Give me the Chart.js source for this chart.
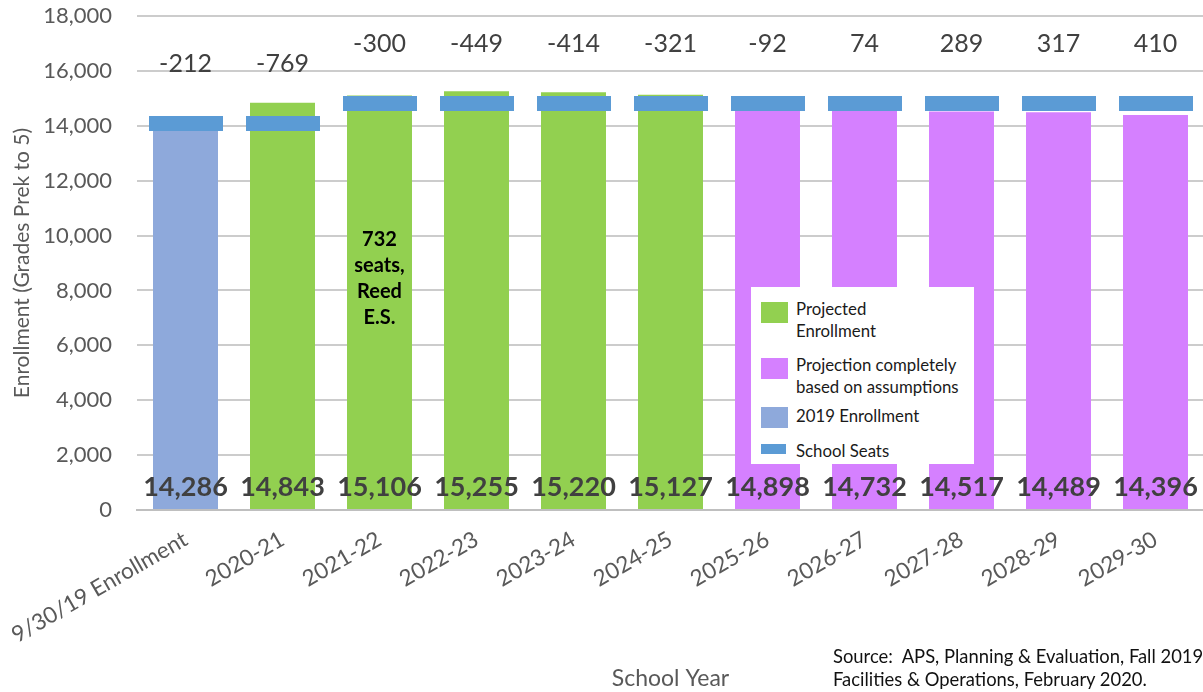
<!DOCTYPE html>
<html><head><meta charset="utf-8">
<script src="https://cdn.jsdelivr.net/npm/chart.js@4.4.1/dist/chart.umd.min.js"></script>
<style>
html,body{margin:0;padding:0;width:1203px;height:692px;overflow:hidden;background:#fff;font-family:Lato,sans-serif;}
#wrap{position:absolute;left:0;top:0;width:1215px;height:692px;}
#legend{position:absolute;left:751px;top:287px;width:223px;height:177px;background:#fff;color:#1a1a1a;font-size:16.8px;line-height:22px;}
.sw{position:absolute;left:10px;width:27px;height:21px;}
.lt{position:absolute;left:45px;white-space:nowrap;}
#source{position:absolute;left:833px;top:645px;font-size:18.4px;line-height:23px;color:#111;white-space:nowrap;}
</style></head>
<body>
<div id="wrap"><canvas id="c" width="1215" height="692"></canvas></div>
<div id="legend">
  <div class="sw" style="top:15px;background:#92D050"></div><div class="lt" style="top:11px">Projected<br>Enrollment</div>
  <div class="sw" style="top:71px;background:#D580FF"></div><div class="lt" style="top:67px">Projection completely<br>based on assumptions</div>
  <div class="sw" style="top:120px;background:#8EA9DB"></div><div class="lt" style="top:118px">2019 Enrollment</div>
  <div class="sw" style="top:157px;height:10px;width:25px;background:#5B9BD5"></div><div class="lt" style="top:153px">School Seats</div>
</div>
<div id="source">Source:&nbsp; APS, Planning &amp; Evaluation, Fall 2019<br>Facilities &amp; Operations, February 2020.</div>
<script>
const categories = ["9/30/19 Enrollment","2020-21","2021-22","2022-23","2023-24","2024-25","2025-26","2026-27","2027-28","2028-29","2029-30"];
const enrollment = [14286,14843,15106,15255,15220,15127,14898,14732,14517,14489,14396];
const seatCapacity = [14074,14074,14806,14806,14806,14806,14806,14806,14806,14806,14806];
const seatGap = [-212,-769,-300,-449,-414,-321,-92,74,289,317,410];
const barKind = ["2019","proj","proj","proj","proj","proj","assume","assume","assume","assume","assume"];
const yTicks = [0,2000,4000,6000,8000,10000,12000,14000,16000,18000];
const noteLines = ["732","seats,","Reed","E.S."];
const noteIndex = 2;

const kindColor = {"2019":"#8EA9DB","proj":"#92D050","assume":"#D580FF"};

const seatImg = document.createElement('canvas');
seatImg.width = 74; seatImg.height = 15;
{ const g = seatImg.getContext('2d'); g.fillStyle = '#5B9BD5'; g.fillRect(0,0,74,15); }

const labelPlugin = {
  id: 'labels',
  afterDatasetsDraw(chart) {
    const ctx = chart.ctx, x = chart.scales.x, y = chart.scales.y;
    ctx.save();
    ctx.textAlign = 'center'; ctx.textBaseline = 'middle';
    categories.forEach((c, i) => {
      const px = x.getPixelForValue(i);
      ctx.font = 'bold 27px Lato'; ctx.fillStyle = '#404040';
      ctx.fillText(enrollment[i].toLocaleString('en-US'), px, y.bottom - 23);
      ctx.font = '25px Lato'; ctx.fillStyle = '#404040';
      ctx.fillText(String(seatGap[i]), px, y.getPixelForValue(seatCapacity[i]) - 60);
    });
    ctx.font = 'bold 20px Lato'; ctx.fillStyle = '#000';
    const nx = x.getPixelForValue(noteIndex);
    noteLines.forEach((t, k) => ctx.fillText(t, nx, 240 + k * 26));
    ctx.restore();
  }
};

new Chart(document.getElementById('c'), {
  data: {
    labels: categories,
    datasets: [
      { type: 'line', label: 'School Seats', data: seatCapacity, showLine: false,
        pointStyle: seatImg, pointRadius: 10, order: 0 },
      { type: 'bar', label: 'Enrollment', data: enrollment,
        backgroundColor: barKind.map(k => kindColor[k]),
        barPercentage: 0.67, categoryPercentage: 1, order: 1 }
    ]
  },
  options: {
    responsive: false, animation: false, devicePixelRatio: 1,
    layout: { padding: { top: 16, right: 6, left: 0, bottom: 0 } },
    plugins: { legend: { display: false }, tooltip: { enabled: false } },
    events: [],
    scales: {
      x: {
        grid: { display: false },
        border: { display: true, color: '#BFBFBF', width: 2 },
        ticks: { color: '#595959', font: { family: 'Lato', size: 22.5 }, minRotation: 30, maxRotation: 30, padding: 8 },
        title: { display: true, text: 'School Year', color: '#595959', font: { family: 'Lato', size: 23 }, padding: { top: 0, bottom: 0 } },
        afterFit(s) { s.height = 182; s.paddingLeft = 0; s.paddingRight = 0; }
      },
      y: {
        min: 0, max: 18000,
        afterBuildTicks(s) { s.ticks = yTicks.map(v => ({ value: v })); },
        grid: { color: '#CCCCCC', lineWidth: 2, drawTicks: false },
        border: { display: false },
        ticks: { color: '#595959', font: { family: 'Lato', size: 22 }, padding: 25,
          callback: v => v.toLocaleString('en-US') },
        title: { display: true, text: 'Enrollment (Grades Prek to 5)', color: '#595959', font: { family: 'Lato', size: 21 }, padding: { top: 10, bottom: 0 } },
        afterFit(s) { s.width = 137; s.paddingTop = 0; s.paddingBottom = 0; }
      }
    }
  },
  plugins: [labelPlugin]
});
</script>
</body></html>
